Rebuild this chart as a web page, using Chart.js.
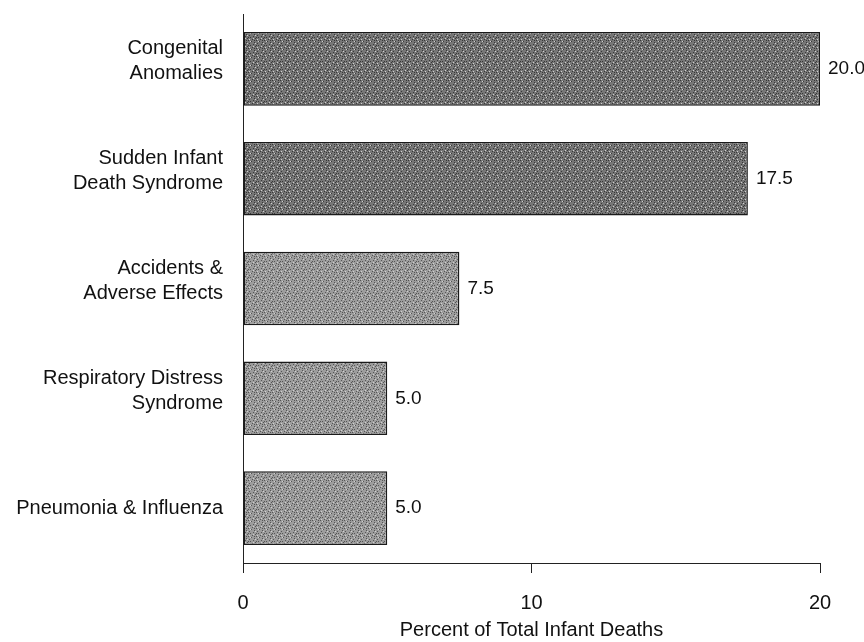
<!DOCTYPE html>
<html>
<head>
<meta charset="utf-8">
<script src="https://cdn.jsdelivr.net/npm/chart.js@4/dist/chart.umd.min.js"></script>
<style>
  html, body { margin: 0; padding: 0; background: #fff; }
  #wrap { width: 864px; height: 642px; }
</style>
</head>
<body>
<div id="wrap"><canvas id="chart"></canvas></div>
<script>
const categories = [
    ['Congenital', 'Anomalies'],
    ['Sudden Infant', 'Death Syndrome'],
    ['Accidents &', 'Adverse Effects'],
    ['Respiratory Distress', 'Syndrome'],
    ['Pneumonia & Influenza']
];
const percentValues = [20.0, 17.5, 7.5, 5.0, 5.0];
const xTicks = [0, 10, 20];

const FONT = '"Liberation Sans", Arial, sans-serif';

// textured grey fill, like the scanned halftone
function makePattern(base, dark) {
    const c = document.createElement('canvas');
    c.width = 8; c.height = 8;
    const g = c.getContext('2d');
    g.fillStyle = base;
    g.fillRect(0, 0, 8, 8);
    g.fillStyle = dark;
    const dots = [[0,0],[3,1],[6,2],[1,3],[5,4],[2,5],[7,6],[4,7],[6,0],[0,5]];
    dots.forEach(([x, y]) => g.fillRect(x, y, 1, 1));
    g.fillStyle = '#d0d0d0';
    [[2,1],[5,6],[7,3],[1,7]].forEach(([x, y]) => g.fillRect(x, y, 1, 1));
    return g.createPattern(c, 'repeat');
}
const darkFill = makePattern('#767676', '#383838');
const lightFill = makePattern('#9c9c9c', '#555555');

// value at the end of each bar + category labels (two-line ones sit a bit high, as in the original)
const textLabels = {
    id: 'textLabels',
    afterDatasetsDraw(chart) {
        const ctx = chart.ctx;
        const meta = chart.getDatasetMeta(0);
        const yScale = chart.scales.y;
        ctx.save();
        ctx.fillStyle = '#111';
        ctx.textBaseline = 'middle';

        ctx.font = '19px ' + FONT;
        ctx.textAlign = 'left';
        meta.data.forEach((bar, i) => {
            ctx.fillText(percentValues[i].toFixed(1), bar.x + 8, bar.y);
        });

        ctx.font = '20px ' + FONT;
        ctx.textAlign = 'right';
        categories.forEach((lines, i) => {
            const y = yScale.getPixelForTick(i);
            const x = yScale.right - 20;
            if (lines.length === 1) {
                ctx.fillText(lines[0], x, y);
            } else {
                ctx.fillText(lines[0], x, y - 20);
                ctx.fillText(lines[1], x, y + 5);
            }
        });
        ctx.restore();
    }
};

new Chart(document.getElementById('chart'), {
    type: 'bar',
    data: {
        labels: categories,
        datasets: [{
            data: percentValues,
            backgroundColor: percentValues.map((v, i) => i < 2 ? darkFill : lightFill),
            borderColor: '#1a1a1a',
            borderWidth: 1.5,
            borderSkipped: false,
            barPercentage: 0.67,
            categoryPercentage: 1
        }]
    },
    options: {
        indexAxis: 'y',
        responsive: true,
        maintainAspectRatio: false,
        animation: false,
        layout: { padding: { top: 14, right: 44, left: 0, bottom: 0 } },
        plugins: {
            legend: { display: false },
            tooltip: { enabled: false }
        },
        scales: {
            x: {
                min: 0,
                max: 20,
                afterBuildTicks: (axis) => { axis.ticks = xTicks.map(v => ({ value: v })); },
                afterFit: (axis) => { axis.height = 79; },
                grid: { drawOnChartArea: false, tickLength: 10, color: '#222', lineWidth: 1 },
                border: { color: '#222', width: 1 },
                ticks: {
                    color: '#111',
                    padding: 18,
                    font: { family: FONT, size: 20 }
                },
                title: {
                    display: true,
                    text: 'Percent of Total Infant Deaths',
                    color: '#111',
                    padding: { top: 0, bottom: 0 },
                    font: { family: FONT, size: 20 }
                }
            },
            y: {
                afterFit: (axis) => {
                    axis.width = 243;
                    axis.paddingTop = 0;
                    axis.paddingBottom = 0;
                },
                grid: { display: false, tickLength: 0 },
                border: { color: '#222', width: 1 },
                ticks: { display: false }
            }
        }
    },
    plugins: [textLabels]
});
</script>
</body>
</html>
